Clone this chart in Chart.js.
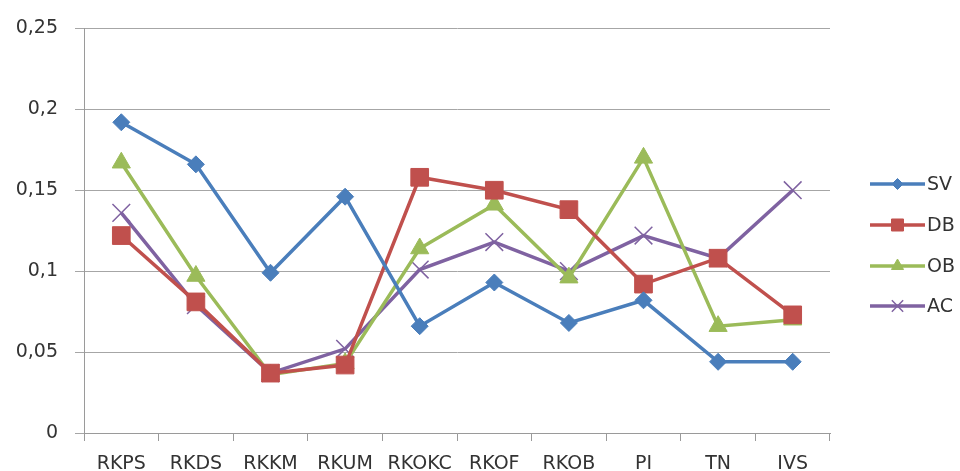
<!DOCTYPE html>
<html>
<head>
<meta charset="utf-8">
<script src="https://cdn.jsdelivr.net/npm/chart.js@4.4.1/dist/chart.umd.min.js"></script>
<style>
html,body{margin:0;padding:0;background:#fff;}
#wrap{width:960px;height:471px;position:relative;}
</style>
</head>
<body>
<div id="wrap"><canvas id="c" width="960" height="471"></canvas></div>
<script>
const categories = ['RKPS','RKDS','RKKM','RKUM','RKOKC','RKOF','RKOB','PI','TN','IVS'];
const svValues = [0.192, 0.166, 0.099, 0.146, 0.066, 0.093, 0.068, 0.082, 0.044, 0.044];
const dbValues = [0.122, 0.081, 0.037, 0.042, 0.158, 0.150, 0.138, 0.092, 0.108, 0.073];
const obValues = [0.167, 0.097, 0.036, 0.043, 0.114, 0.141, 0.096, 0.170, 0.066, 0.070];
const acValues = [0.136, 0.079, 0.037, 0.052, 0.101, 0.118, 0.100, 0.122, 0.108, 0.150];
const seriesNames = ['SV','DB','OB','AC'];
const yTickLabels = ['0','0,05','0,1','0,15','0,2','0,25'];

const FONT = '"DejaVu Sans", sans-serif';
const TEXT = '#333333';

function ds(label, data, color, style, radius, bw){
  return {
    label, data,
    borderColor: color, backgroundColor: color,
    pointBackgroundColor: color, pointBorderColor: color,
    borderWidth: 3.5, pointStyle: style, pointRadius: radius, pointHoverRadius: radius,
    pointBorderWidth: bw, tension: 0
  };
}

const legendPlugin = {
  id: 'sideLegend',
  afterDraw(chart){
    const ctx = chart.ctx;
    const ys = [184, 225, 266, 306];
    const sizes = [5.5, 8.5, 7, 8];
    chart.data.datasets.forEach((d, i) => {
      const y = ys[i];
      ctx.save();
      ctx.strokeStyle = d.borderColor;
      ctx.lineWidth = 3.5;
      ctx.beginPath();
      ctx.moveTo(870, y); ctx.lineTo(925, y);
      ctx.stroke();
      ctx.fillStyle = d.backgroundColor;
      ctx.strokeStyle = d.borderColor;
      ctx.lineWidth = d.pointBorderWidth;
      Chart.helpers.drawPoint(ctx, {pointStyle: d.pointStyle, rotation: 0, radius: sizes[i], borderWidth: d.pointBorderWidth}, 897.5, y);
      ctx.fillStyle = TEXT;
      ctx.font = '19px ' + FONT;
      ctx.textAlign = 'left';
      ctx.textBaseline = 'middle';
      ctx.fillText(d.label, 927, y + 1);
      ctx.restore();
    });
  }
};

new Chart(document.getElementById('c'), {
  type: 'line',
  data: {
    labels: categories,
    datasets: [
      ds(seriesNames[0], svValues, '#4A7EBB', 'rectRot', 8.5, 1),
      ds(seriesNames[1], dbValues, '#C0504D', 'rect', 12.5, 1),
      ds(seriesNames[2], obValues, '#9BBB59', 'triangle', 10.5, 1),
      ds(seriesNames[3], acValues, '#7F62A1', 'crossRot', 12.5, 1.5)
    ]
  },
  options: {
    responsive: false,
    animation: false,
    devicePixelRatio: 1,
    layout: { padding: { top: 23, right: 130, left: 0, bottom: 0 } },
    plugins: { legend: { display: false }, tooltip: { enabled: false } },
    scales: {
      x: {
        offset: true,
        grid: { display: true, offset: true, drawOnChartArea: false, drawTicks: true, tickLength: 8, color: '#9a9a9a', lineWidth: 1 },
        border: { display: true, color: '#9a9a9a', width: 1 },
        ticks: { autoSkip: false, maxRotation: 0, minRotation: 0, padding: 12, color: TEXT, font: { family: FONT, size: 19 } },
        afterFit(scale){ scale.height = 38; }
      },
      y: {
        min: 0, max: 0.25,
        grid: { color: '#a6a6a6', lineWidth: 1, tickLength: 9, drawTicks: true },
        border: { display: true, color: '#9a9a9a', width: 1 },
        ticks: {
          stepSize: 0.05, padding: 17, color: TEXT, font: { family: FONT, size: 19 },
          callback: (v, i) => yTickLabels[i]
        },
        afterFit(scale){ scale.width = 84; }
      }
    }
  },
  plugins: [legendPlugin]
});
</script>
</body>
</html>
